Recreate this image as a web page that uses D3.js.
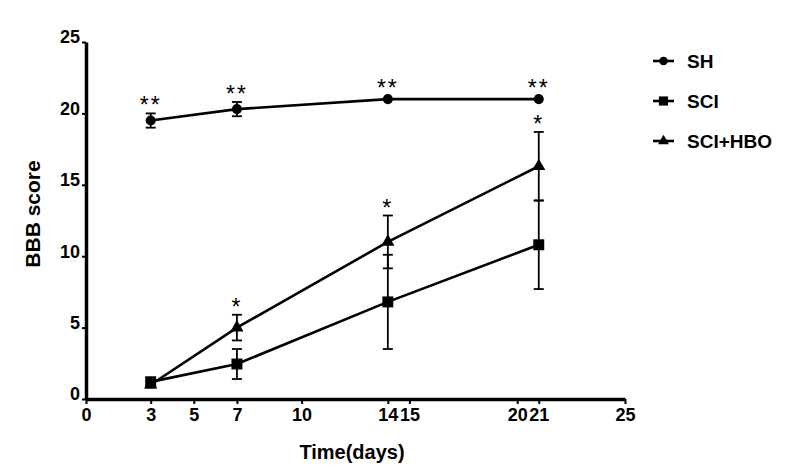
<!DOCTYPE html>
<html>
<head>
<meta charset="utf-8">
<script src="https://cdn.jsdelivr.net/npm/d3@7"></script>
<style>
  body { margin: 0; background: #fff; }
  text { font-family: Arial, "Liberation Sans", sans-serif; }
</style>
</head>
<body>
<script>
/* Data */
const days = [3, 7, 14, 21];
const shMean = [19.5, 20.3, 21.0, 21.0];
const shErr = [0.5, 0.5, 0, 0];
const sciMean = [1.2, 2.45, 6.8, 10.8];
const sciErr = [0.3, 1.05, 3.3, 3.1];
const hboMean = [1.0, 5.0, 11.0, 16.3];
const hboErr = [0.2, 0.9, 1.85, 2.4];
const shSig = ["**", "**", "**", "**"];
const hboSig = ["", "*", "*", "*"];
const xTicks = [0, 3, 5, 7, 10, 14, 15, 20, 21, 25];
const yTicks = [0, 5, 10, 15, 20, 25];

const series = [
  { name: "SH", mean: shMean, err: shErr, sig: shSig, shape: d3.symbolCircle, size: 80 },
  { name: "SCI", mean: sciMean, err: sciErr, sig: null, shape: d3.symbolSquare, size: 120 },
  { name: "SCI+HBO", mean: hboMean, err: hboErr, sig: hboSig, shape: d3.symbolTriangle, size: 75 }
];

/* Constants */
const W = 800, H = 475;
const X0 = 86, X1 = 625, Y0 = 399, Y1 = 42;

const svg = d3.select("body").append("svg")
  .attr("width", W)
  .attr("height", H);

/* Scales */
const x = d3.scaleLinear().domain([0, 25]).range([X0, X1]);
const y = d3.scaleLinear().domain([0, 25]).range([Y0, Y1]);

/* Axes */
const yAxis = svg.append("g")
  .attr("transform", "translate(" + X0 + ",0)")
  .call(d3.axisLeft(y).tickValues(yTicks).tickSize(4).tickSizeOuter(0));
yAxis.select(".domain").style("stroke-width", "3.5px");
yAxis.selectAll(".tick line").style("stroke-width", "2px");
yAxis.selectAll(".tick text")
  .attr("x", -6).attr("dy", "0.05em")
  .style("font-size", "18px").style("font-weight", "bold").attr("fill", "#000");

const xAxis = svg.append("g")
  .attr("transform", "translate(0," + Y0 + ")")
  .call(d3.axisBottom(x).tickValues(xTicks).tickSize(5).tickSizeOuter(0));
xAxis.select(".domain").style("stroke-width", "3.5px");
xAxis.selectAll(".tick line").style("stroke-width", "2px");
xAxis.selectAll(".tick text")
  .attr("y", 9)
  .style("font-size", "18px").style("font-weight", "bold").attr("fill", "#000");

/* Axis titles */
svg.append("text")
  .attr("x", 352)
  .attr("y", 459)
  .attr("text-anchor", "middle")
  .style("font-size", "20px").style("font-weight", "bold")
  .text("Time(days)");

svg.append("text")
  .attr("transform", "translate(40,214) rotate(-90)")
  .attr("text-anchor", "middle")
  .style("font-size", "21px").style("font-weight", "bold")
  .text("BBB score");

/* Series */
const line = d3.line().x((d, i) => x(days[i])).y(d => y(d));

series.forEach(s => {
  const g = svg.append("g");
  g.append("path")
    .datum(s.mean)
    .attr("d", line)
    .attr("fill", "none")
    .attr("stroke", "#000")
    .attr("stroke-width", 2.6);

  // error bars
  s.mean.forEach((m, i) => {
    const e = s.err[i];
    if (e <= 0) return;
    const cx = x(days[i]);
    g.append("line")
      .attr("x1", cx).attr("x2", cx)
      .attr("y1", y(m - e)).attr("y2", y(m + e))
      .attr("stroke", "#000").attr("stroke-width", 1.8);
    [m - e, m + e].forEach(v => {
      g.append("line")
        .attr("x1", cx - 5).attr("x2", cx + 5)
        .attr("y1", y(v)).attr("y2", y(v))
        .attr("stroke", "#000").attr("stroke-width", 1.8);
    });
  });

  g.selectAll("path.mark")
    .data(s.mean)
    .enter()
    .append("path")
    .attr("class", "mark")
    .attr("d", d3.symbol().type(s.shape).size(s.size))
    .attr("transform", (d, i) => "translate(" + x(days[i]) + "," + y(d) + ")")
    .attr("fill", "#000");

  // significance stars
  if (s.sig) {
    s.sig.forEach((t, i) => {
      if (!t) return;
      const top = y(s.mean[i] + s.err[i]) - (s.err[i] > 0 ? 13 : 16);
      svg.append("text")
        .attr("x", x(days[i]))
        .attr("y", top + 13)
        .attr("text-anchor", "middle")
        .style("font-size", "23px")
        .style("letter-spacing", "2px")
        .text(t);
    });
  }
});

/* Legend */
const legend = svg.append("g");
series.forEach((s, i) => {
  const ly = 61 + i * 40;
  legend.append("line")
    .attr("x1", 653).attr("x2", 674)
    .attr("y1", ly).attr("y2", ly)
    .attr("stroke", "#000").attr("stroke-width", 2.6);
  legend.append("path")
    .attr("d", d3.symbol().type(s.shape).size(s.size * 0.7))
    .attr("transform", "translate(663.5," + ly + ")")
    .attr("fill", "#000");
  legend.append("text")
    .attr("x", 687)
    .attr("y", ly + 7)
    .style("font-size", "19px").style("font-weight", "bold")
    .text(s.name);
});
</script>
</body>
</html>
